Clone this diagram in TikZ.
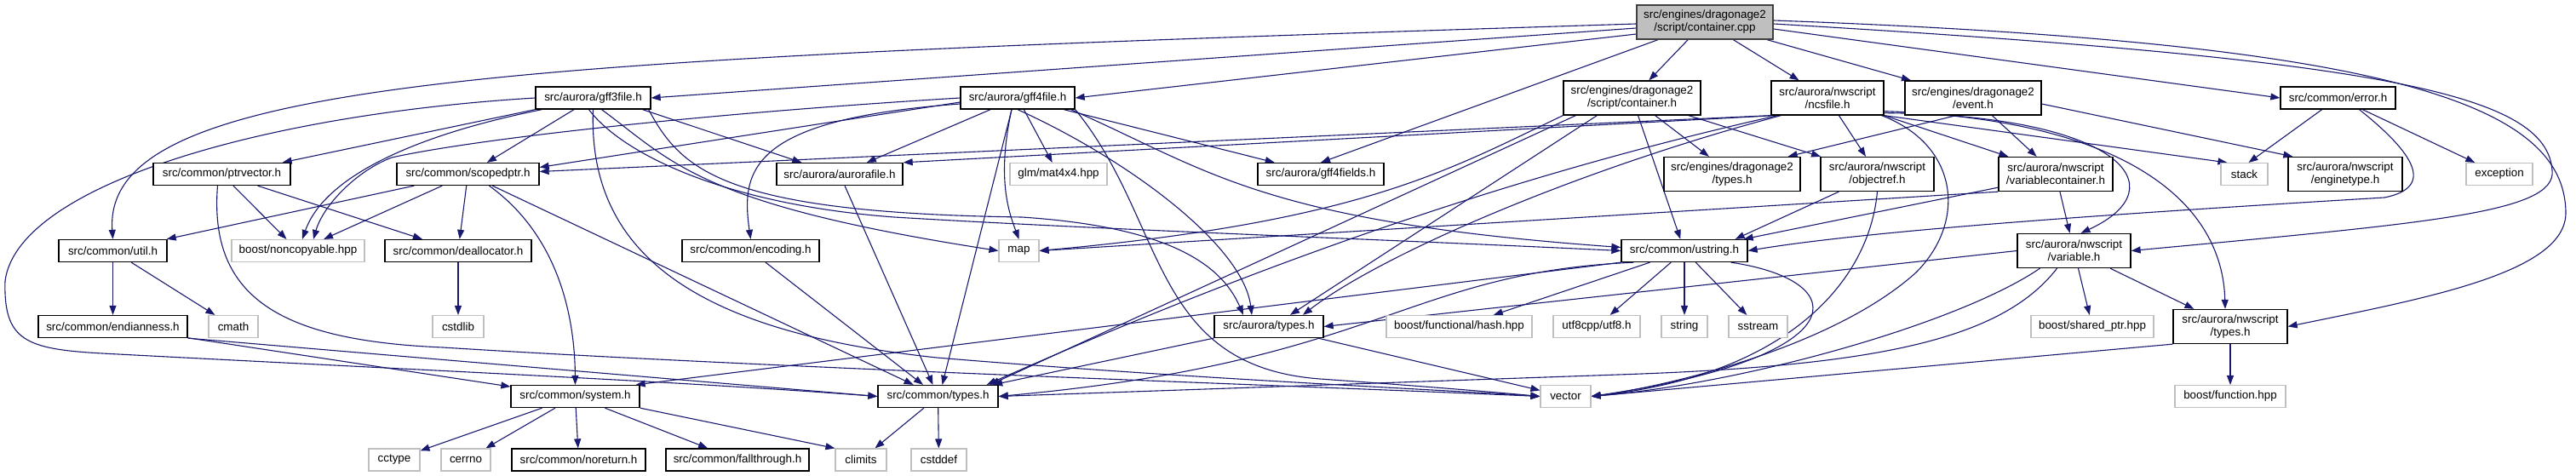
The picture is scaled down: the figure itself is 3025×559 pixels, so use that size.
\documentclass[tikz,border=0pt]{standalone}
\usepackage{fontspec}
\setmainfont{Liberation Sans}
\usetikzlibrary{arrows.meta}
\definecolor{edgec}{RGB}{25,25,112}
\definecolor{extc}{RGB}{191,191,191}
\definecolor{rootfill}{RGB}{191,191,191}
\definecolor{rootdraw}{RGB}{64,64,64}
\pgfdeclarelayer{bg}
\pgfsetlayers{bg,main}
\tikzset{
  nd/.style={draw=black, line width=1.3pt, fill=white, inner sep=0pt, align=center, font=\fontsize{13.4}{15}\selectfont},
  ex/.style={nd, draw=extc, line width=1.1pt},
  rt/.style={nd, draw=rootdraw, fill=rootfill},
  sz/.style 2 args={minimum width=#1pt, minimum height=#2pt},
  dep/.style={draw=edgec, line width=1.1pt, -{Triangle[length=11pt,width=8pt]}},
}
\begin{document}
\begin{tikzpicture}[x=1pt,y=-1pt]
\useasboundingbox (0,0) rectangle (3025,559);
\begin{pgfonlayer}{bg}
\fill[white] (0,0) rectangle (3025,559);
\end{pgfonlayer}
% row 0
\node[rt, sz={160}{40}] (cpp) at (2002,26) {src/engines/dragonage2\\/script/container.cpp};
% row 1
\node[nd, sz={135}{26}] (gffthree) at (696.5,115) {src/aurora/gff3file.h};
\node[nd, sz={134}{26}] (gfffour) at (1195,115) {src/aurora/gff4file.h};
\node[nd, sz={161}{40}] (conth) at (1916.5,115) {src/engines/dragonage2\\/script/container.h};
\node[nd, sz={132}{40}] (ncs) at (2146,115) {src/aurora/nwscript\\/ncsfile.h};
\node[nd, sz={160}{40}] (event) at (2317,115) {src/engines/dragonage2\\/event.h};
\node[nd, sz={135}{26}] (error) at (2745.5,115) {src/common/error.h};
% row 2
\node[nd, sz={161}{26}] (ptrvec) at (260.5,204.5) {src/common/ptrvector.h};
\node[nd, sz={167}{26}] (scoped) at (549.5,204.5) {src/common/scopedptr.h};
\node[nd, sz={148}{26}] (aurfile) at (986,204.5) {src/aurora/aurorafile.h};
\node[ex, sz={114}{26}] (glm) at (1243,204.5) {glm/mat4x4.hpp};
\node[nd, sz={148}{26}] (fields) at (1551,204.5) {src/aurora/gff4fields.h};
\node[nd, sz={160}{40}] (datypes) at (2034,204.5) {src/engines/dragonage2\\/types.h};
\node[nd, sz={133}{40}] (objref) at (2204.5,204.5) {src/aurora/nwscript\\/objectref.h};
\node[nd, sz={134}{40}] (varcont) at (2414,204.5) {src/aurora/nwscript\\/variablecontainer.h};
\node[ex, sz={55}{26}] (stack) at (2635.5,204.5) {stack};
\node[nd, sz={134}{40}] (engtype) at (2754,204.5) {src/aurora/nwscript\\/enginetype.h};
\node[ex, sz={78}{26}] (exception) at (2935,204.5) {exception};
% row 3
\node[nd, sz={127}{26}] (util) at (132.5,294.5) {src/common/util.h};
\node[ex, sz={156}{26}] (noncopy) at (350,294.5) {boost/noncopyable.hpp};
\node[nd, sz={172}{26}] (dealloc) at (538,294.5) {src/common/deallocator.h};
\node[nd, sz={161}{26}] (encoding) at (881.5,294.5) {src/common/encoding.h};
\node[ex, sz={47}{26}] (map) at (1196.5,294.5) {map};
\node[nd, sz={148}{26}] (ustring) at (1978,294.5) {src/common/ustring.h};
\node[nd, sz={133}{40}] (variable) at (2435.5,294.5) {src/aurora/nwscript\\/variable.h};
% row 4
\node[nd, sz={175}{26}] (endian) at (132.5,383.5) {src/common/endianness.h};
\node[ex, sz={58}{26}] (cmath) at (274,383.5) {cmath};
\node[ex, sz={60}{26}] (cstdlib) at (538,383.5) {cstdlib};
\node[nd, sz={128}{26}] (aurtypes) at (1490,383.5) {src/aurora/types.h};
\node[ex, sz={171}{26}] (hash) at (1713.5,383.5) {boost/functional/hash.hpp};
\node[ex, sz={102}{26}] (utf) at (1875,383.5) {utf8cpp/utf8.h};
\node[ex, sz={54}{26}] (string) at (1978,383.5) {string};
\node[ex, sz={69}{26}] (sstream) at (2064.5,383.5) {sstream};
\node[ex, sz={144}{26}] (sharedptr) at (2457,383.5) {boost/shared\_ptr.hpp};
\node[nd, sz={134}{40}] (nwtypes) at (2619,383.5) {src/aurora/nwscript\\/types.h};
% row 5
\node[nd, sz={151}{26}] (system) at (675.5,465.5) {src/common/system.h};
\node[nd, sz={141}{26}] (ctypes) at (1101.5,465.5) {src/common/types.h};
\node[ex, sz={59}{26}] (vector) at (1838.5,465.5) {vector};
\node[ex, sz={130}{26}] (function) at (2619,465.5) {boost/function.hpp};
% row 6
\node[ex, sz={60}{26}] (cctype) at (463,540) {cctype};
\node[ex, sz={58}{26}] (cerrno) at (547,540) {cerrno};
\node[nd, sz={157}{26}] (noreturn) at (679.5,540) {src/common/noreturn.h};
\node[nd, sz={168}{26}] (fallthrough) at (866,540) {src/common/fallthrough.h};
\node[ex, sz={60}{26}] (climits) at (1011,540) {climits};
\node[ex, sz={65}{26}] (cstddef) at (1102.5,540) {cstddef};

\begin{pgfonlayer}{bg}
% root
\draw[dep] ([yshift=-2pt]cpp.west) .. controls (600,70) and (120,90) .. (util.north);
\draw[dep] ([yshift=-7pt]cpp.west) -- (gffthree.east);
\draw[dep] ([yshift=-14pt]cpp.west) -- (gfffour.east);
\draw[dep] ([xshift=-55pt]cpp.south) -- (fields.north);
\draw[dep] (cpp) -- (conth);
\draw[dep] (cpp) -- (ncs);
\draw[dep] (cpp) -- (event);
\draw[dep] ([yshift=-8pt]cpp.east) -- (error.west);
\draw[dep] ([yshift=-2pt]cpp.east) .. controls (2800,70) and (2990,110) .. (2997,200) .. controls (3003,250) and (2850,262) .. (variable.east);
\draw[dep] ([yshift=2pt]cpp.east) .. controls (2800,50) and (3012,120) .. (3013,250) .. controls (3013,320) and (2850,350) .. (nwtypes.east);
% gff3file
\draw[dep] (gffthree.west) .. controls (300,135) and (20,220) .. (6,330) .. controls (4,400) and (30,410) .. (120,415) .. controls (500,435) and (800,448) .. (ctypes.west);
\draw[dep] (gffthree.south west) -- ([xshift=-10pt]ptrvec.north east);
\draw[dep] ([xshift=8pt]gffthree.south west) .. controls (480,160) and (380,210) .. ([xshift=5pt]noncopy.north);
\draw[dep] (gffthree) -- (scoped);
\draw[dep] ([xshift=-10pt]gffthree.south east) -- ([xshift=30pt]aurfile.north west);
\draw[dep] ([xshift=10pt]gffthree.south) .. controls (790,190) and (820,240) .. (map.west);
\draw[dep] (gffthree.south) .. controls (690,300) and (820,390) .. (1100,420) .. controls (1400,445) and (1700,458) .. (vector.west);
\draw[dep] ([xshift=-5pt]gffthree.south) .. controls (730,180) and (850,240) .. (1050,255) .. controls (1300,270) and (1600,280) .. (ustring.west);
\draw[dep] ([xshift=-3pt]gffthree.south east) .. controls (800,200) and (850,250) .. (1200,255) .. controls (1350,265) and (1430,300) .. ([xshift=-30pt]aurtypes.north);
% gff4file
\draw[dep] (gfffour.west) .. controls (800,135) and (550,165) .. (460,185) .. controls (420,200) and (380,240) .. ([xshift=18pt]noncopy.north);
\draw[dep] ([yshift=-5pt]gfffour.west) -- ([yshift=8pt]scoped.east);
\draw[dep] ([yshift=-7pt]gfffour.west) .. controls (880,140) and (870,200) .. (encoding.north);
\draw[dep] (gfffour) -- (aurfile);
\draw[dep] ([xshift=-7pt]gfffour.south) -- ([xshift=5pt]ctypes.north);
\draw[dep] ([xshift=-7pt]gfffour.south) .. controls (1170,210) and (1185,250) .. (map.north);
\draw[dep] (gfffour) -- (glm);
\draw[dep] (gfffour) -- (fields);
\draw[dep] (gfffour.south) .. controls (1330,190) and (1460,290) .. ([xshift=-20pt]aurtypes.north);
\draw[dep] (gfffour.south east) .. controls (1370,260) and (1350,430) .. (1550,445) .. controls (1650,452) and (1750,460) .. (vector.west);
\draw[dep] ([xshift=-5pt]gfffour.south east) .. controls (1420,200) and (1480,260) .. ([yshift=4pt]ustring.west);
% container.h
\draw[dep] (conth.south west) .. controls (1700,200) and (1600,260) .. (map.east);
\draw[dep] ([xshift=15pt]conth.south west) -- ([xshift=-10pt]ctypes.north east);
\draw[dep] ([xshift=40pt]conth.south west) -- ([xshift=25pt]aurtypes.north);
\draw[dep] (conth) -- (ustring);
\draw[dep] (conth) -- (datypes);
\draw[dep] (conth) -- (objref);
% ncsfile
\draw[dep] (ncs.south west) -- ([yshift=3pt]scoped.east);
\draw[dep] ([xshift=4pt]ncs.south west) -- (aurfile.north east);
\draw[dep] ([xshift=8pt]ncs.south west) .. controls (1800,200) and (1500,300) .. ([xshift=-14pt]ctypes.north east);
\draw[dep] ([xshift=12pt]ncs.south west) .. controls (1850,200) and (1620,300) .. ([xshift=40pt]aurtypes.north);
\draw[dep] (ncs) -- (objref);
\draw[dep] (ncs.south east) -- ([xshift=8pt]stack.north west);
\draw[dep] (ncs.south east) -- ([xshift=12pt]varcont.north west);
\draw[dep] ([yshift=3pt]ncs.south east) .. controls (2490,135) and (2560,220) .. ([xshift=8pt]variable.north);
\draw[dep] ([yshift=5pt]ncs.south east) .. controls (2500,140) and (2610,240) .. ([xshift=-6pt]nwtypes.north);
\draw[dep] ([xshift=-3pt]ncs.south east) .. controls (2300,170) and (2310,260) .. (2250,320) .. controls (2150,410) and (1950,455) .. (vector.east);
% event
\draw[dep] ([xshift=-20pt]event.south) -- ([xshift=-15pt]datypes.north east);
\draw[dep] (event) -- (varcont);
\draw[dep] ([yshift=-7pt]event.east) -- ([xshift=6pt]engtype.north west);
% error
\draw[dep] (error) -- ([xshift=5pt]stack.north);
\draw[dep] (error) -- (exception);
\draw[dep] ([xshift=25pt]error.south) .. controls (2835,180) and (2860,220) .. (2800,232) .. controls (2500,250) and (2200,270) .. (ustring.east);
% ptrvector
\draw[dep] ([xshift=-5pt]ptrvec.south) .. controls (245,350) and (330,400) .. (520,408) .. controls (900,432) and (1500,452) .. (vector.west);
\draw[dep] (ptrvec) -- (noncopy);
\draw[dep] (ptrvec) -- (dealloc);
% scopedptr
\draw[dep] (scoped) -- (util);
\draw[dep] (scoped) -- (noncopy);
\draw[dep] (scoped) -- (dealloc);
\draw[dep] ([xshift=25pt]scoped.south) .. controls (660,280) and (675,380) .. (system.north);
\draw[dep] (scoped) -- (ctypes);
% util, endianness, deallocator
\draw[dep] (util) -- (endian);
\draw[dep] (util) -- (cmath);
\draw[dep] (endian) -- (system);
\draw[dep] (endian.south east) -- (ctypes.west);
\draw[dep] (dealloc) -- (cstdlib);
% system
\draw[dep] (system) -- (cctype);
\draw[dep] (system) -- (cerrno);
\draw[dep] (system) -- (noreturn);
\draw[dep] (system) -- (fallthrough);
\draw[dep] (system.south east) -- (climits.north west);
% common types
\draw[dep] (ctypes) -- (climits);
\draw[dep] (ctypes) -- (cstddef);
\draw[dep] (encoding) -- (ctypes);
\draw[dep] (aurfile) -- (ctypes);
% aurora types
\draw[dep] (aurtypes) -- (ctypes);
\draw[dep] (aurtypes) -- (vector);
% ustring
\draw[dep] (ustring.south west) -- ([xshift=-5pt]system.north east);
\draw[dep] ([xshift=15pt]ustring.south west) .. controls (1650,320) and (1620,425) .. (ctypes.east);
\draw[dep] (ustring) -- (hash);
\draw[dep] (ustring) -- (utf);
\draw[dep] (ustring) -- (string);
\draw[dep] (ustring) -- (sstream);
\draw[dep] ([xshift=-20pt]ustring.south east) .. controls (2180,330) and (2180,420) .. (vector.east);
% objectref
\draw[dep] (objref) -- ([xshift=-15pt]ustring.north east);
\draw[dep] (objref.south) .. controls (2195,330) and (2100,440) .. (vector.east);
% variablecontainer
\draw[dep] (varcont.south west) -- (map.east);
\draw[dep] ([yshift=5pt]varcont.south west) -- ([xshift=-5pt]ustring.north east);
\draw[dep] (varcont) -- (variable);
% variable
\draw[dep] ([xshift=-20pt]variable.south) .. controls (2350,400) and (2200,430) .. (1900,440) -- (ctypes.east);
\draw[dep] (variable.west) -- (aurtypes.east);
\draw[dep] (variable) -- (sharedptr);
\draw[dep] (variable) -- (nwtypes);
\draw[dep] ([xshift=-40pt]variable.south) .. controls (2300,380) and (2050,450) .. (vector.east);
% nwscript types
\draw[dep] (nwtypes.south west) -- (vector.east);
\draw[dep] (nwtypes) -- (function);
\end{pgfonlayer}
\end{tikzpicture}
\end{document}
